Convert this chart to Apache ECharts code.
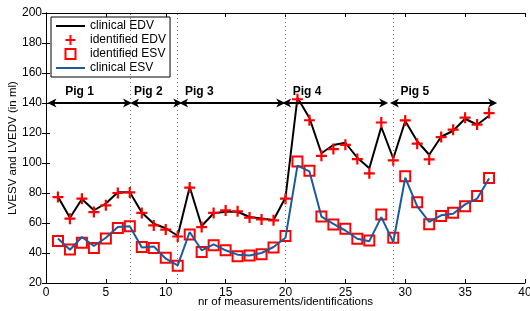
<!DOCTYPE html>
<html>
<head>
<meta charset="utf-8">
<script src="https://cdn.jsdelivr.net/npm/echarts@6/dist/echarts.min.js"></script>
<style>
  html, body { margin: 0; padding: 0; background: #fff; }
  #chart { width: 530px; height: 311px; }
</style>
</head>
<body>
<div id="chart"></div>
<script>
// measurement index 1..37
var measureIdx = [];
for (var i = 1; i <= 37; i++) measureIdx.push(i);

var clinicalEDV = [77.5, 63.5, 76, 68.5, 73, 80.5, 80.5, 67, 59.5, 56.5, 51.5, 84, 58, 66.5, 67.5, 67.5, 64, 63, 62, 77,
  143.5, 130, 106.5, 112, 113.5, 103.5, 96.5, 124, 103, 128, 114.5, 105.5, 117.5, 121.5, 129.5, 125.5, 131.5];
var identifiedEDV = [77.3, 62.9, 76.2, 67.3, 71.8, 80, 80.4, 66.7, 58.4, 55.6, 51, 83.6, 57.3, 66.7, 68.4, 67.8, 63.6, 62.4, 61.8, 76.2,
  142.5, 128.5, 104.8, 109.3, 112.1, 102.6, 93.1, 127, 101.8, 128.4, 112.9, 102.4, 117.3, 122.2, 130.2, 125.6, 133.3];
var identifiedESV = [48, 42.4, 46.9, 43.3, 49.6, 56.7, 57.8, 44, 43.3, 36.9, 31.5, 52.4, 40.7, 45.1, 41.8, 37.8, 38.4, 39.1, 43.6, 51.4,
  101, 94.9, 64.3, 59, 56.1, 49.5, 48.4, 65.6, 50.1, 91.2, 73.9, 59.1, 64.7, 66.9, 71.1, 78, 90];
var clinicalESV = [49.6, 42.2, 50.7, 44.7, 50.2, 57.3, 57.8, 43.6, 44.4, 36.2, 31.8, 54, 41.8, 45.8, 41.8, 38.9, 38.4, 40, 44, 50.2,
  98.2, 94.4, 64.3, 59.4, 55, 49.5, 47.9, 63.9, 47.3, 90.2, 71.1, 60.7, 65.1, 66.2, 72.4, 76.2, 89.6];

// pig boundaries, pig arrows (start, end, level) and label anchors
var pigBounds = [7, 11, 20, 29];
var pigNames = ['Pig 1', 'Pig 2', 'Pig 3', 'Pig 4', 'Pig 5'];
var pigStart = [0.5, 7.4, 11.5, 20.1, 29.1];
var pigEnd = [6.8, 11.0, 19.6, 28.2, 37.3];
var pigLevel = 140;
var pigLabelX = [1.6, 7.35, 11.6, 20.6, 29.6];
var pigLabelY = 147.5;

function pairs(ys) {
  return ys.map(function (y, k) { return [measureIdx[k], y]; });
}

var font = 'Liberation Sans, Arial, Helvetica, sans-serif';
var plusPath = 'path://M4,0h2v4h4v2h-4v4h-2v-4h-4v-2h4z';
var squarePath = 'path://M0,0h10v10h-10z';
var arrowHead = 'path://M0,0L4.5,9L0,6.5L-4.5,9Z';

var chart = echarts.init(document.getElementById('chart'));

var arrowLines = pigNames.map(function (n, k) {
  return [
    { coord: [pigStart[k], pigLevel] },
    { coord: [pigEnd[k], pigLevel] }
  ];
});
var pigLabels = pigNames.map(function (n, k) {
  return { name: n, coord: [pigLabelX[k], pigLabelY] };
});
var boundLines = pigBounds.map(function (b) {
  return [{ coord: [b, 20] }, { coord: [b, 200] }];
});

var option = {
  animation: false,
  textStyle: { fontFamily: font },
  grid: { left: 46, right: 5, top: 13, bottom: 28, show: false, containLabel: false, outerBoundsMode: 'none' },
  legend: {
    orient: 'vertical',
    left: 51,
    top: 17,
    padding: [2, 4, 2, 4],
    itemWidth: 29,
    itemHeight: 10,
    itemGap: 0,
    borderColor: '#000',
    borderWidth: 1,
    backgroundColor: '#fff',
    textStyle: { fontSize: 12, color: '#000', lineHeight: 14, fontFamily: font },
    data: [
      { name: 'clinical EDV', itemStyle: { opacity: 0 } },
      { name: 'identified EDV' },
      { name: 'identified ESV' },
      { name: 'clinical ESV', itemStyle: { opacity: 0 } }
    ]
  },
  xAxis: [{
    type: 'value',
    min: 0, max: 40, interval: 5,
    name: 'nr of measurements/identifications',
    nameLocation: 'middle',
    nameGap: 13,
    nameMoveOverlap: false,
    nameTextStyle: { fontSize: 11.5, color: '#000' },
    axisLine: { lineStyle: { color: '#000', width: 1 } },
    axisTick: { inside: true, length: 4, lineStyle: { color: '#000' } },
    axisLabel: { fontSize: 12, color: '#000', margin: 4 },
    splitLine: { show: false }
  }, {
    type: 'value', position: 'top',
    min: 0, max: 40, interval: 5,
    axisLine: { lineStyle: { color: '#000', width: 1 } },
    axisTick: { inside: true, length: 4, lineStyle: { color: '#000' } },
    axisLabel: { show: false },
    splitLine: { show: false }
  }],
  yAxis: [{
    type: 'value',
    min: 20, max: 200, interval: 20,
    name: 'LVESV and LVEDV (in ml)',
    nameLocation: 'middle',
    nameGap: 27,
    nameMoveOverlap: false,
    nameTextStyle: { fontSize: 11.5, color: '#000' },
    axisLine: { show: true, lineStyle: { color: '#000', width: 1 } },
    axisTick: { show: true, inside: true, length: 4, lineStyle: { color: '#000' } },
    axisLabel: { fontSize: 12, color: '#000', margin: 4 },
    splitLine: { show: false }
  }, {
    type: 'value', position: 'right',
    min: 20, max: 200, interval: 20,
    axisLine: { show: true, lineStyle: { color: '#000', width: 1 } },
    axisTick: { show: true, inside: true, length: 4, lineStyle: { color: '#000' } },
    axisLabel: { show: false },
    splitLine: { show: false }
  }],
  series: [{
    name: 'clinical EDV',
    type: 'line',
    data: pairs(clinicalEDV),
    symbol: 'none',
    color: '#000',
    lineStyle: { color: '#000', width: 2 },
    z: 2,
    markLine: {
      silent: true,
      symbol: ['none', 'none'],
      label: { show: false },
      lineStyle: { color: '#777', width: 1, type: [1, 3] },
      data: boundLines
    }
  }, {
    name: 'identified EDV',
    type: 'scatter',
    data: pairs(identifiedEDV),
    symbol: plusPath,
    symbolSize: 11,
    symbolKeepAspect: true,
    itemStyle: { color: '#ff0000', opacity: 1 },
    z: 3,
    markLine: {
      silent: true,
      symbol: [arrowHead, arrowHead],
      symbolSize: [9, 9],
      lineStyle: { color: '#000', width: 1.8, type: 'solid' },
      label: { show: false },
      data: arrowLines
    },
    markPoint: {
      silent: true,
      symbol: 'circle',
      symbolSize: 0,
      label: {
        show: true,
        position: 'right',
        distance: 0,
        formatter: '{b}',
        fontSize: 12,
        fontWeight: 'bold',
        color: '#000',
        fontFamily: font
      },
      data: pigLabels
    }
  }, {
    name: 'identified ESV',
    type: 'scatter',
    data: pairs(identifiedESV),
    symbol: squarePath,
    symbolSize: 10,
    symbolKeepAspect: true,
    itemStyle: { color: 'rgba(255,255,255,0)', borderColor: '#ff0000', borderWidth: 2, opacity: 1 },
    z: 3
  }, {
    name: 'clinical ESV',
    type: 'line',
    data: pairs(clinicalESV),
    symbol: 'none',
    color: '#1c5a9c',
    lineStyle: { color: '#1c5a9c', width: 2 },
    z: 4
  }]
};

chart.setOption(option);
</script>
</body>
</html>
